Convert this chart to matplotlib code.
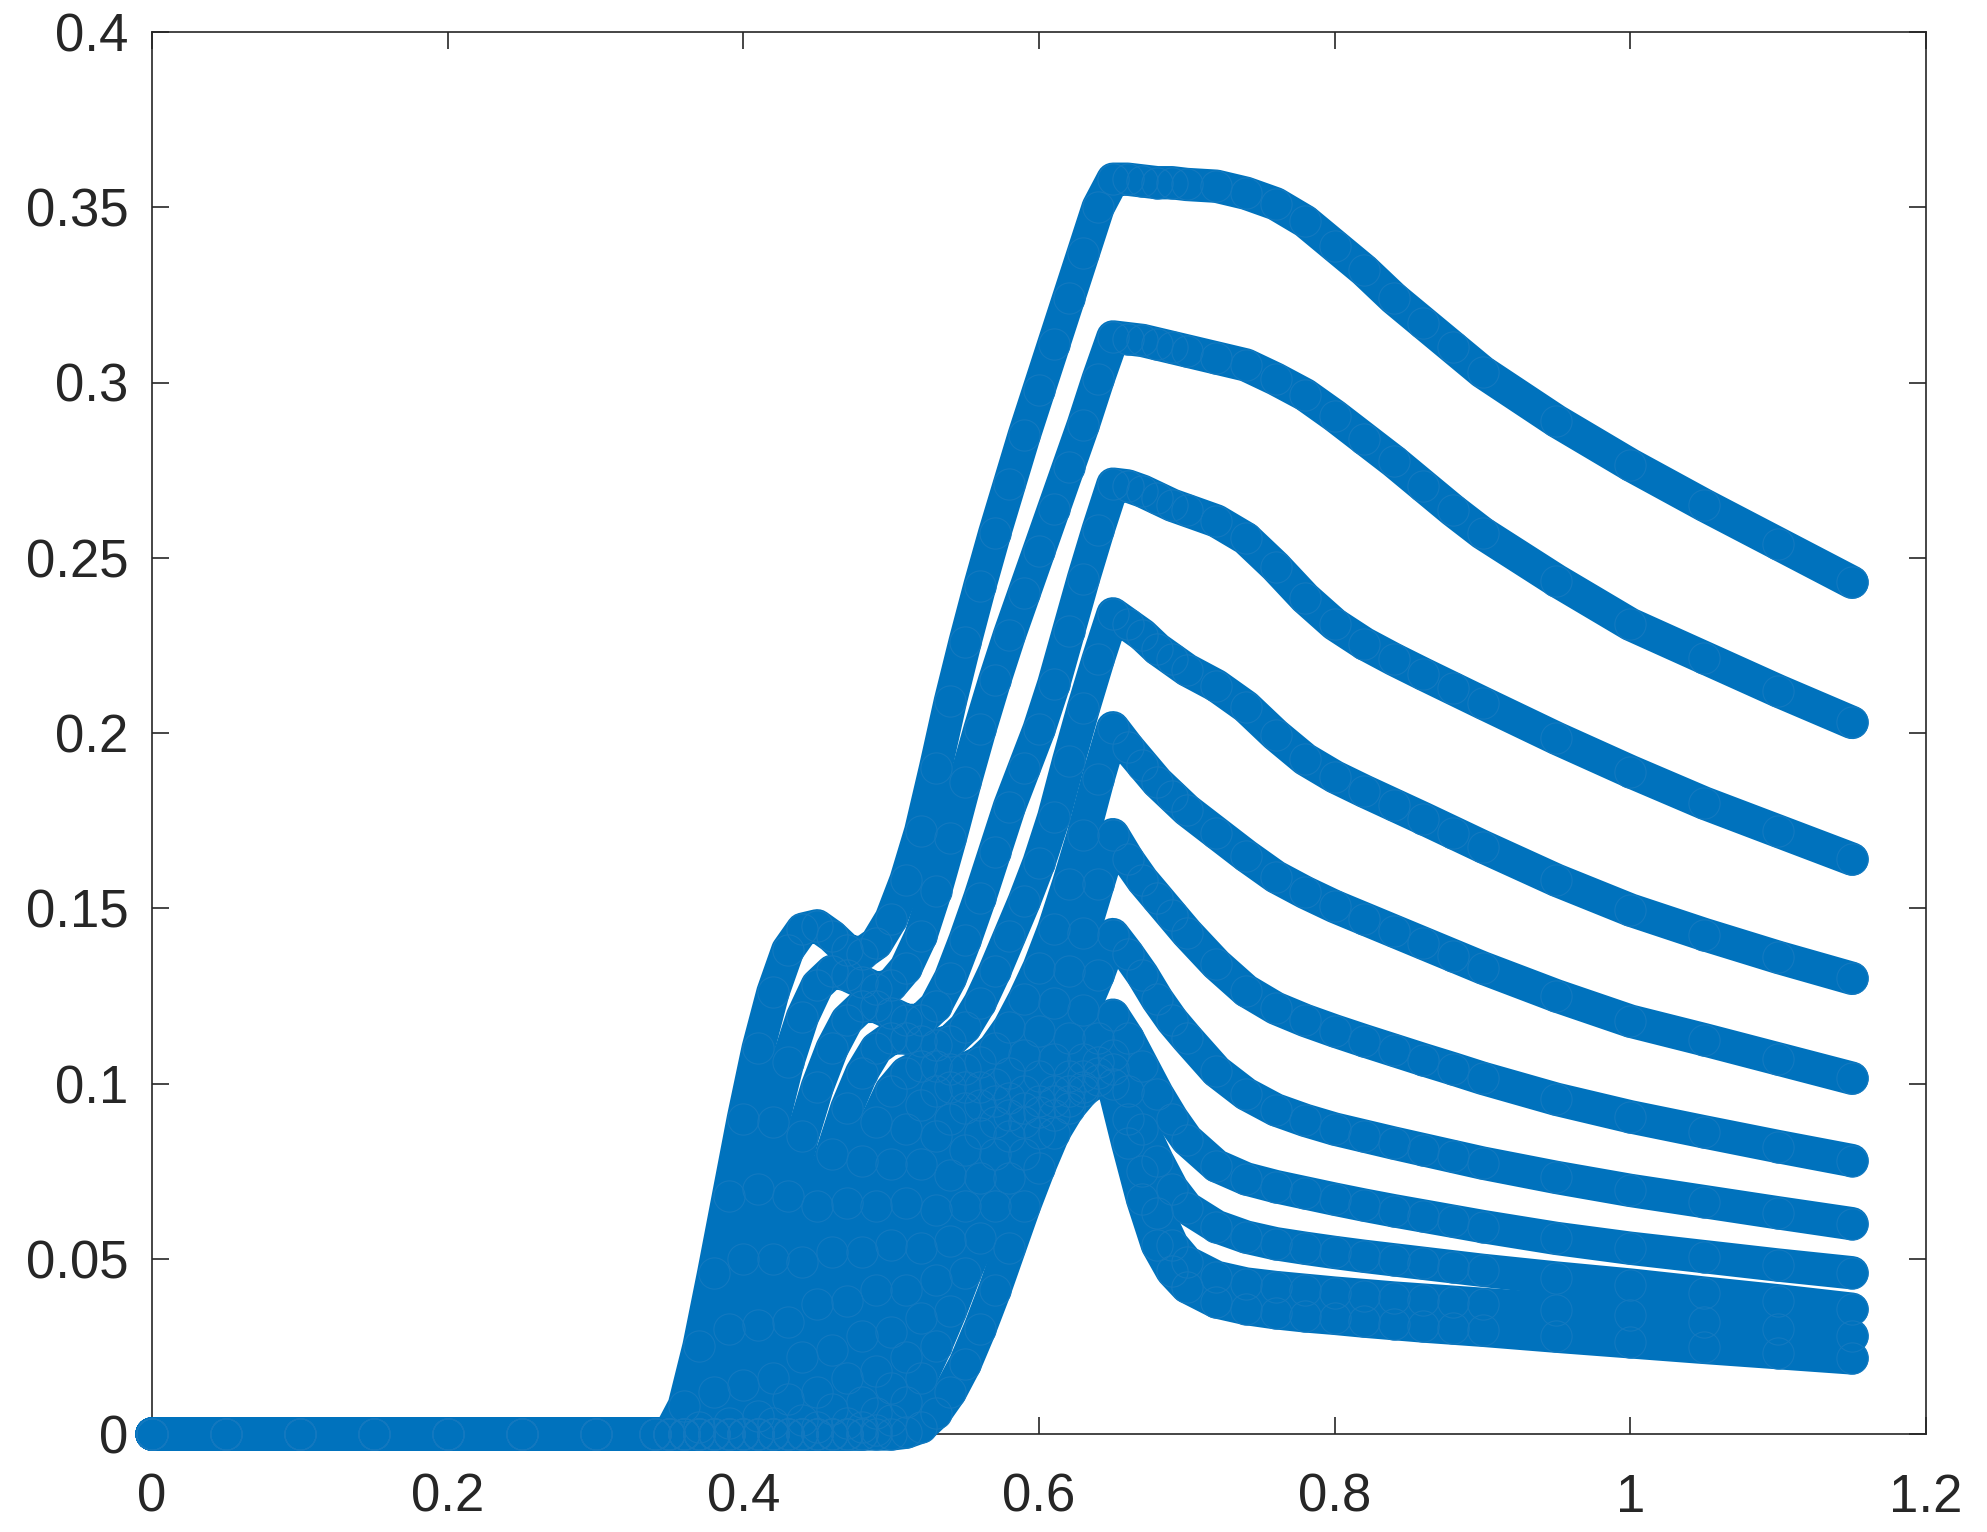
import numpy as np
import matplotlib
matplotlib.use("Agg")
import matplotlib.pyplot as plt

# ---------------- data ----------------
X = [0.00, 0.05, 0.10, 0.15, 0.20, 0.25, 0.30, 0.34,
     0.35, 0.36, 0.37, 0.38, 0.39, 0.40, 0.41, 0.42, 0.43, 0.44,
     0.45, 0.46, 0.47, 0.48, 0.49, 0.50, 0.51, 0.52, 0.53, 0.54,
     0.55, 0.56, 0.57, 0.58, 0.59, 0.60, 0.61, 0.62, 0.63, 0.64,
     0.65, 0.66, 0.67, 0.68, 0.69, 0.70,
     0.72, 0.74, 0.76, 0.78, 0.80, 0.82, 0.84, 0.86, 0.88, 0.90,
     0.95, 1.00, 1.05, 1.10, 1.15]

HEAD = [0.0] * 8   # values at x = 0 ... 0.34 (all curves flat at zero)

c1 = HEAD + [0.000, 0.008, 0.025, 0.046, 0.068, 0.090, 0.110, 0.126, 0.138, 0.144,
             0.145, 0.142, 0.138, 0.137, 0.140, 0.147, 0.158, 0.172, 0.190, 0.209,
             0.226, 0.242, 0.257, 0.271, 0.285, 0.298, 0.311, 0.324, 0.337, 0.350,
             0.358, 0.358, 0.3575, 0.357, 0.357, 0.3565,
             0.356, 0.354, 0.351, 0.346, 0.339, 0.332, 0.324, 0.317, 0.310, 0.303,
             0.289, 0.2765, 0.265, 0.254, 0.243]
c2 = HEAD + [0.000, 0.000, 0.002, 0.012, 0.030, 0.050, 0.070, 0.089, 0.106, 0.119,
             0.128, 0.132, 0.131, 0.129, 0.127, 0.128, 0.133, 0.142, 0.155, 0.170,
             0.186, 0.201, 0.215, 0.228, 0.240, 0.252, 0.264, 0.276, 0.288, 0.301,
             0.313, 0.3125, 0.312, 0.311, 0.310, 0.309,
             0.307, 0.305, 0.301, 0.2965, 0.2905, 0.284, 0.2775, 0.2705, 0.2635, 0.257,
             0.2435, 0.231, 0.2215, 0.212, 0.203]
c3 = HEAD + [0.000, 0.000, 0.000, 0.000, 0.003, 0.014, 0.031, 0.050, 0.068, 0.085,
             0.099, 0.110, 0.118, 0.122, 0.122, 0.120, 0.118, 0.118, 0.122, 0.130,
             0.141, 0.153, 0.166, 0.179, 0.190, 0.201, 0.214, 0.229, 0.244, 0.258,
             0.271, 0.2705, 0.269, 0.267, 0.265, 0.2635,
             0.2605, 0.2555, 0.2475, 0.2385, 0.231, 0.2255, 0.221, 0.2168, 0.2127, 0.2086,
             0.1985, 0.189, 0.180, 0.172, 0.164]
c4 = HEAD + [0.000, 0.000, 0.000, 0.000, 0.000, 0.000, 0.005, 0.016, 0.032, 0.049,
             0.065, 0.080, 0.093, 0.103, 0.110, 0.113, 0.113, 0.112, 0.111, 0.112,
             0.116, 0.123, 0.132, 0.142, 0.152, 0.163, 0.176, 0.192, 0.207, 0.221,
             0.234, 0.231, 0.228, 0.224, 0.221, 0.218,
             0.2135, 0.2075, 0.1995, 0.1925, 0.1875, 0.1834, 0.1795, 0.1756, 0.1716, 0.1676,
             0.158, 0.1495, 0.1425, 0.136, 0.130]
c5 = HEAD + [0.000, 0.000, 0.000, 0.000, 0.000, 0.000, 0.000, 0.003, 0.010, 0.022,
             0.037, 0.052, 0.066, 0.078, 0.089, 0.098, 0.103, 0.105, 0.105, 0.104,
             0.104, 0.106, 0.110, 0.116, 0.124, 0.133, 0.144, 0.157, 0.171, 0.187,
             0.2015, 0.196, 0.191, 0.186, 0.182, 0.178,
             0.1715, 0.165, 0.159, 0.1545, 0.1505, 0.147, 0.1435, 0.140, 0.1365, 0.133,
             0.125, 0.1178, 0.1125, 0.107, 0.1015]
c6 = HEAD + [0.000, 0.000, 0.000, 0.000, 0.000, 0.000, 0.000, 0.000, 0.000, 0.004,
             0.012, 0.024, 0.038, 0.052, 0.065, 0.077, 0.087, 0.094, 0.098, 0.099,
             0.099, 0.099, 0.100, 0.103, 0.108, 0.115, 0.123, 0.132, 0.143, 0.157,
             0.171, 0.164, 0.158, 0.153, 0.148, 0.143,
             0.134, 0.1265, 0.1215, 0.118, 0.115, 0.1122, 0.1095, 0.1068, 0.1042, 0.1015,
             0.0955, 0.0905, 0.0862, 0.082, 0.078]
c7 = HEAD + [0.000, 0.000, 0.000, 0.000, 0.000, 0.000, 0.000, 0.000, 0.000, 0.000,
             0.002, 0.007, 0.016, 0.028, 0.041, 0.054, 0.066, 0.077, 0.085, 0.090,
             0.093, 0.094, 0.095, 0.096, 0.098, 0.102, 0.107, 0.113, 0.121, 0.131,
             0.1425, 0.137, 0.131, 0.124, 0.118, 0.113,
             0.1035, 0.097, 0.0925, 0.0895, 0.087, 0.085, 0.083, 0.0811, 0.0792, 0.0773,
             0.0732, 0.0695, 0.0663, 0.0631, 0.060]
c8 = HEAD + [0.000, 0.000, 0.000, 0.000, 0.000, 0.000, 0.000, 0.000, 0.000, 0.000,
             0.000, 0.000, 0.003, 0.009, 0.018, 0.029, 0.041, 0.053, 0.064, 0.074,
             0.081, 0.086, 0.089, 0.091, 0.093, 0.095, 0.098, 0.102, 0.107, 0.113,
             0.1195, 0.113, 0.105, 0.097, 0.090, 0.084,
             0.0765, 0.0728, 0.0706, 0.0688, 0.067, 0.0653, 0.0637, 0.0622, 0.0607, 0.0592,
             0.0558, 0.053, 0.0506, 0.0482, 0.046]
c9 = HEAD + [0.000, 0.000, 0.000, 0.000, 0.000, 0.000, 0.000, 0.000, 0.000, 0.000,
             0.000, 0.000, 0.000, 0.002, 0.006, 0.013, 0.022, 0.033, 0.044, 0.055,
             0.065, 0.073, 0.080, 0.085, 0.089, 0.092, 0.095, 0.098, 0.102, 0.106,
             0.108, 0.098, 0.087, 0.078, 0.070, 0.0645,
             0.0592, 0.0562, 0.0543, 0.053, 0.0518, 0.0507, 0.0497, 0.0487, 0.0477, 0.0467,
             0.0445, 0.0425, 0.0402, 0.038, 0.0356]
c10 = HEAD + [0.000, 0.000, 0.000, 0.000, 0.000, 0.000, 0.000, 0.000, 0.000, 0.000,
              0.000, 0.000, 0.000, 0.000, 0.001, 0.004, 0.009, 0.016, 0.025, 0.035,
              0.046, 0.056, 0.065, 0.073, 0.080, 0.086, 0.091, 0.095, 0.099, 0.103,
              0.104, 0.090, 0.075, 0.063, 0.054, 0.049,
              0.0447, 0.0428, 0.0418, 0.041, 0.0402, 0.0395, 0.0388, 0.0382, 0.0376, 0.037,
              0.0355, 0.034, 0.032, 0.030, 0.028]
c11 = HEAD + [0.000, 0.000, 0.000, 0.000, 0.000, 0.000, 0.000, 0.000, 0.000, 0.000,
              0.000, 0.000, 0.000, 0.000, 0.000, 0.000, 0.0005, 0.002, 0.006, 0.012,
              0.020, 0.030, 0.041, 0.053, 0.065, 0.076, 0.086, 0.093, 0.098, 0.101,
              0.100, 0.083, 0.067, 0.054, 0.0465, 0.042,
              0.0377, 0.0358, 0.0346, 0.0337, 0.033, 0.0322, 0.0315, 0.0308, 0.0302, 0.0296,
              0.0279, 0.0263, 0.0247, 0.0232, 0.0217]

SERIES = [c1, c2, c3, c4, c5, c6, c7, c8, c9, c10, c11]

XTICKS = [0, 0.2, 0.4, 0.6, 0.8, 1.0, 1.2]
XTICKLABELS = ["0", "0.2", "0.4", "0.6", "0.8", "1", "1.2"]
YTICKS = [0, 0.05, 0.10, 0.15, 0.20, 0.25, 0.30, 0.35, 0.40]
YTICKLABELS = ["0", "0.05", "0.1", "0.15", "0.2", "0.25", "0.3", "0.35", "0.4"]

# ---------------- style ----------------
plt.rcParams['font.family'] = ['Liberation Sans', 'DejaVu Sans']
BLUE = '#0072BD'
AXC = '#262626'
BAND = 24.0   # marker diameter in points

fig = plt.figure(figsize=(19.87, 15.32), dpi=100)
ax = fig.add_axes([152/1987, 1 - 1434/1532, (1926-152)/1987, (1434-32)/1532])

xa = np.array(X)
for s in SERIES:
    n = min(len(s), len(xa))
    ya = np.array(s[:n])
    ax.plot(xa[:n], ya, '-', color=BLUE, lw=BAND, solid_capstyle='round',
            solid_joinstyle='round', zorder=3, clip_on=False)
    ax.plot(xa[:n], ya, 'o', color=BLUE, mfc='none', mec='#1379c0',
            ms=BAND - 1.5, mew=0.8, zorder=4, clip_on=False)

ax.set_xlim(0, 1.2)
ax.set_ylim(0, 0.4)
ax.set_xticks(XTICKS)
ax.set_xticklabels(XTICKLABELS)
ax.set_yticks(YTICKS)
ax.set_yticklabels(YTICKLABELS)

ax.tick_params(axis='both', direction='in', length=12, width=1.2, color=AXC,
               labelcolor=AXC, labelsize=38, top=True, right=True)
ax.tick_params(axis='x', pad=28)
ax.tick_params(axis='y', pad=17)
for sp in ax.spines.values():
    sp.set_color(AXC)
    sp.set_linewidth(1.2)
    sp.set_zorder(2.5)

fig.savefig('out.png', dpi=100, facecolor='white')
